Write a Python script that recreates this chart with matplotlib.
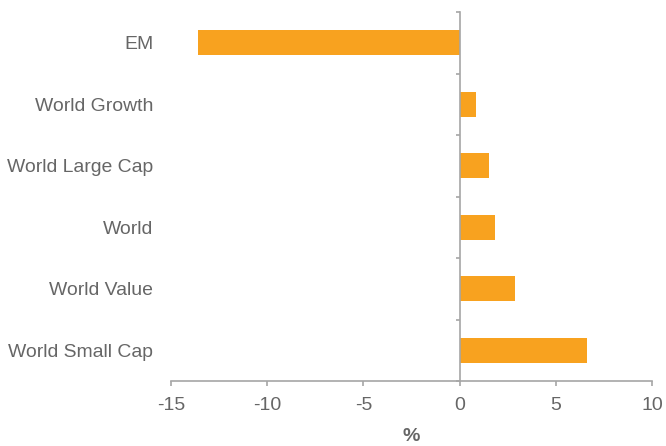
import numpy as np
import matplotlib
matplotlib.use("Agg")
import matplotlib.pyplot as plt
from matplotlib.transforms import blended_transform_factory

plt.rcParams['font.family'] = ['Liberation Sans', 'DejaVu Sans']

categories = ["EM", "World Growth", "World Large Cap", "World", "World Value", "World Small Cap"]
values = [-13.6, 0.85, 1.55, 1.86, 2.9, 6.62]
x_ticks = [-15, -10, -5, 0, 5, 10]

bar_color = "#F8A21F"
axis_color = "#A6A6A6"
text_color = "#666666"

fig = plt.figure(figsize=(6.66, 4.46), dpi=100)
ax = fig.add_axes([0.2568, 0.1457, 0.7222, 0.8273])

y = np.arange(len(categories))
ax.barh(y, values, height=0.4, color=bar_color, edgecolor="none")

ax.set_ylim(len(categories) - 0.5, -0.5)
ax.set_xlim(x_ticks[0], x_ticks[-1])

for side in ("top", "right"):
    ax.spines[side].set_visible(False)
ax.spines["left"].set_position(("data", 0))
for side in ("left", "bottom"):
    ax.spines[side].set_color(axis_color)
    ax.spines[side].set_linewidth(1.2)

ax.set_yticks(np.arange(-0.5, len(categories), 1.0))
ax.set_yticklabels([])
ax.tick_params(axis="y", direction="out", length=3, width=1.2, color=axis_color)

ax.set_xticks(x_ticks)
ax.set_xticklabels([str(t) for t in x_ticks])
ax.tick_params(axis="x", direction="out", length=3.6, width=1.2, color=axis_color,
               labelsize=14, labelcolor=text_color, pad=8)

trans = blended_transform_factory(ax.transAxes, ax.transData)
for yi, name in zip(y, categories):
    ax.text(-0.037, yi, name, transform=trans, ha="right", va="center_baseline",
            fontsize=13.95, color=text_color)

ax.set_xlabel("%", fontsize=14, fontweight="bold", color=text_color, labelpad=10)

fig.savefig("out.png", dpi=100)
